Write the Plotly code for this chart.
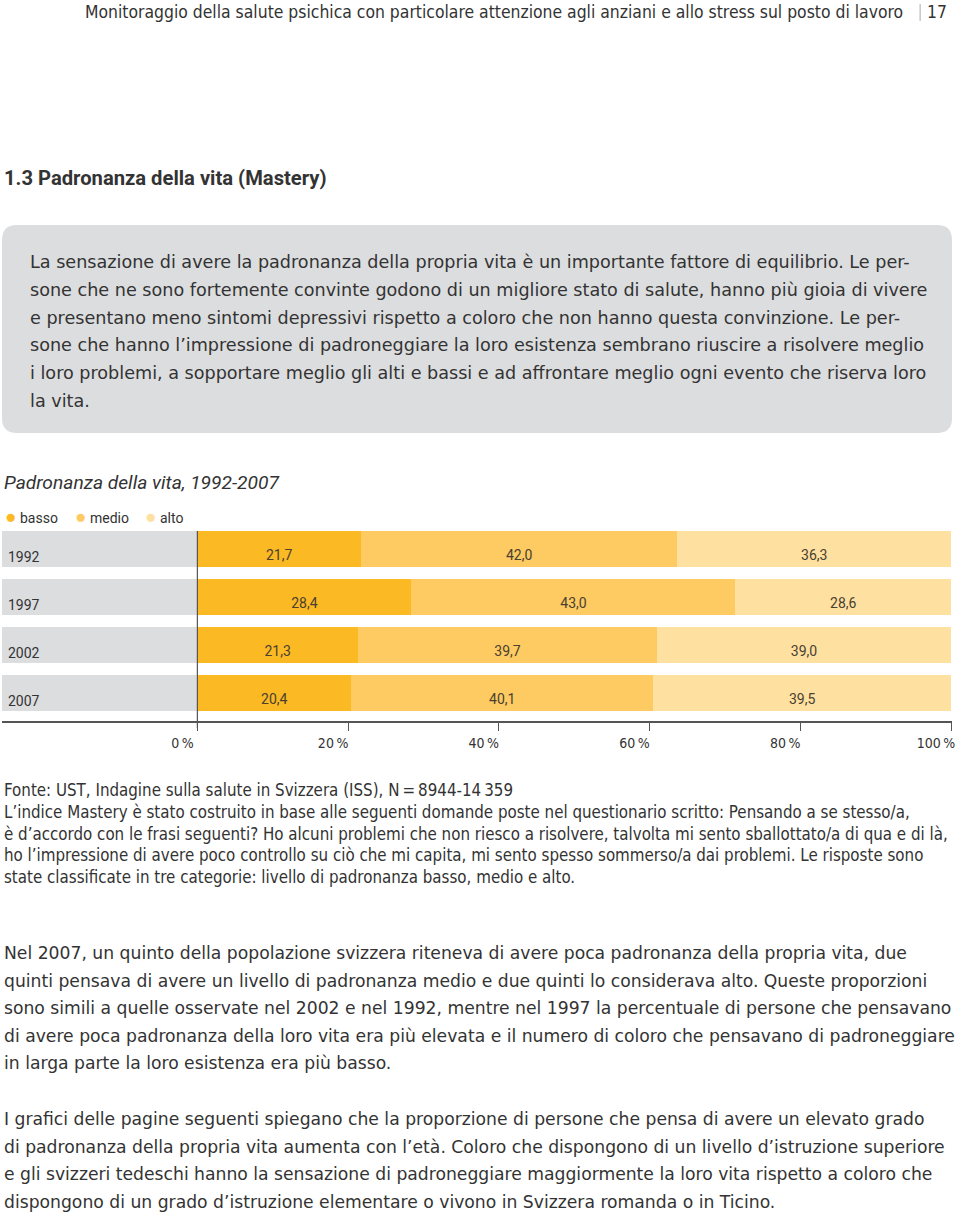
import plotly.graph_objects as go

W, H = 960, 1214

years = ["1992", "1997", "2002", "2007"]
basso = [21.7, 28.4, 21.3, 20.4]
medio = [42.0, 43.0, 39.7, 40.1]
alto = [36.3, 28.6, 39.0, 39.5]
series_names = ["basso", "medio", "alto"]
colors = ["#fbb924", "#fdcb62", "#fee0a0"]
tick_vals = [0, 20, 40, 60, 80, 100]
tick_text = ["0\u2009%", "20\u2009%", "40\u2009%", "60\u2009%", "80\u2009%", "100\u2009%"]

FONT = "Roboto, 'Noto Sans', sans-serif"
BODY = "'DejaVu Sans', sans-serif"
COND = "'DejaVu Sans Condensed', sans-serif"
TXT = "#333333"
GRAY = "#dcdddf"


def fx(p):
    return p / W


def fy(p):
    return 1 - p / H


def fmt(v):
    return f"{v:.1f}".replace(".", ",")


# axis geometry (pixels)
x0_px, x100_px, left_px, right_px = 198, 954, 2, 955
ppu = (x100_px - x0_px) / 100
xmin = -(x0_px - left_px) / ppu
xmax = 100 + (right_px - x100_px) / ppu
row_top_px, axis_px, pitch = 525, 721, 48
ymax_units = -0.5 + (axis_px - row_top_px) / pitch

fig = go.Figure()

# gray label background
fig.add_trace(go.Bar(
    y=years, x=[-xmin] * len(years), base=[xmin] * len(years), orientation="h",
    marker=dict(color=GRAY, line=dict(width=0)), width=0.75, showlegend=False, hoverinfo="skip"))

series = [basso, medio, alto]
for name, vals, col in zip(series_names, series, colors):
    fig.add_trace(go.Bar(
        y=years, x=vals, name=name, orientation="h",
        marker=dict(color=col, line=dict(width=0)), width=0.75, showlegend=False))

# value labels
cum = [0.0] * len(years)
for vals in series:
    mids = [c + v / 2 for c, v in zip(cum, vals)]
    fig.add_trace(go.Scatter(
        x=mids, y=years, mode="text", text=[fmt(v) for v in vals],
        textposition="bottom center", textfont=dict(family=FONT, size=14, color="#4a4030"),
        showlegend=False, hoverinfo="skip"))
    cum = [c + v for c, v in zip(cum, vals)]

fig.update_layout(
    width=W, height=H, margin=dict(l=0, r=0, t=0, b=0),
    paper_bgcolor="white", plot_bgcolor="white", barmode="stack", bargap=0.25,
    font=dict(family=FONT, color=TXT),
    xaxis=dict(domain=[fx(left_px), fx(right_px)], range=[xmin, xmax], showgrid=False, zeroline=False,
               showline=True, linecolor="#555555", linewidth=1.5,
               tickvals=tick_vals, ticktext=tick_text, ticks="outside", ticklen=8, tickcolor="#555555",
               tickwidth=1, ticklabelshift=-15, ticklabelstandoff=0,
               tickfont=dict(family=COND, size=14, color=TXT), fixedrange=True),
    yaxis=dict(domain=[fy(axis_px), fy(row_top_px)], range=[ymax_units, -0.5], type="category",
               showgrid=False, zeroline=False, showline=False, ticks="",
               ticklabelposition="inside", ticklabelshift=-8, ticklabelstandoff=3,
               tickfont=dict(family=FONT, size=14, color=TXT), fixedrange=True),
)

shapes = []
# rounded gray box
bx0, bx1, by0, by1, r = 2, 955, 225, 433, 15
path = (f"M {fx(bx0 + r)} {fy(by0)} L {fx(bx1 - r)} {fy(by0)} "
        f"Q {fx(bx1)} {fy(by0)} {fx(bx1)} {fy(by0 + r)} L {fx(bx1)} {fy(by1 - r)} "
        f"Q {fx(bx1)} {fy(by1)} {fx(bx1 - r)} {fy(by1)} L {fx(bx0 + r)} {fy(by1)} "
        f"Q {fx(bx0)} {fy(by1)} {fx(bx0)} {fy(by1 - r)} L {fx(bx0)} {fy(by0 + r)} "
        f"Q {fx(bx0)} {fy(by0)} {fx(bx0 + r)} {fy(by0)} Z")
shapes.append(dict(type="path", xref="paper", yref="paper", path=path, fillcolor=GRAY,
                   line=dict(width=0), layer="below"))
# 0% vertical line
shapes.append(dict(type="line", xref="x", yref="paper", x0=0, x1=0, y0=fy(728), y1=fy(531),
                   line=dict(color="#555555", width=1.2)))
# header separator
shapes.append(dict(type="line", xref="paper", yref="paper", x0=fx(923), x1=fx(923), y0=fy(4), y1=fy(21),
                   line=dict(color="#aaaaaa", width=1)))
fig.update_layout(shapes=shapes)

ann = []


def text(x, y, s, size, family=FONT, color=TXT, anchor="left"):
    ann.append(dict(x=fx(x), y=fy(y), xref="paper", yref="paper", text=s, showarrow=False,
                    xanchor=anchor, yanchor="middle", font=dict(family=family, size=size, color=color)))


text(908, 12, "Monitoraggio della salute psichica con particolare attenzione agli anziani e allo stress sul posto di lavoro",
     17.4, COND, anchor="right")
text(952, 12, "17", 17.4, COND, anchor="right")
text(2, 178, "<b>1.3 Padronanza della vita (Mastery)</b>", 20.2)

box_lines = [
    "La sensazione di avere la padronanza della propria vita è un importante fattore di equilibrio. Le per-",
    "sone che ne sono fortemente convinte godono di un migliore stato di salute, hanno più gioia di vivere",
    "e presentano meno sintomi depressivi rispetto a coloro che non hanno questa convinzione. Le per-",
    "sone che hanno l’impressione di padroneggiare la loro esistenza sembrano riuscire a risolvere meglio",
    "i loro problemi, a sopportare meglio gli alti e bassi e ad affrontare meglio ogni evento che riserva loro",
    "la vita.",
]
for i, s in enumerate(box_lines):
    text(28, 262 + i * 27.8, s, 17.6, BODY)

text(2, 483, "<i>Padronanza della vita, 1992-2007</i>", 19.2)

# legend
lx = [3, 73, 143]
for x, name, col in zip(lx, series_names, colors):
    text(x, 516, f"<span style='color:{col};font-size:19px'>●</span> {name}", 14)

foot = [
    "Fonte: UST, Indagine sulla salute in Svizzera (ISS), N\u2009=\u20098944-14\u2009359",
    "L’indice Mastery è stato costruito in base alle seguenti domande poste nel questionario scritto: Pensando a se stesso/a,",
    "è d’accordo con le frasi seguenti? Ho alcuni problemi che non riesco a risolvere, talvolta mi sento sballottato/a di qua e di là,",
    "ho l’impressione di avere poco controllo su ciò che mi capita, mi sento spesso sommerso/a dai problemi. Le risposte sono",
    "state classificate in tre categorie: livello di padronanza basso, medio e alto.",
]
for i, s in enumerate(foot):
    text(2, 790 + i * 21.75, s, 16.8, COND)

p1 = [
    "Nel 2007, un quinto della popolazione svizzera riteneva di avere poca padronanza della propria vita, due",
    "quinti pensava di avere un livello di padronanza medio e due quinti lo considerava alto. Queste proporzioni",
    "sono simili a quelle osservate nel 2002 e nel 1992, mentre nel 1997 la percentuale di persone che pensavano",
    "di avere poca padronanza della loro vita era più elevata e il numero di coloro che pensavano di padroneggiare",
    "in larga parte la loro esistenza era più basso.",
]
for i, s in enumerate(p1):
    text(2, 953 + i * 27.5, s, 17.2, BODY)

p2 = [
    "I grafici delle pagine seguenti spiegano che la proporzione di persone che pensa di avere un elevato grado",
    "di padronanza della propria vita aumenta con l’età. Coloro che dispongono di un livello d’istruzione superiore",
    "e gli svizzeri tedeschi hanno la sensazione di padroneggiare maggiormente la loro vita rispetto a coloro che",
    "dispongono di un grado d’istruzione elementare o vivono in Svizzera romanda o in Ticino.",
]
for i, s in enumerate(p2):
    text(2, 1119 + i * 27.6, s, 17.2, BODY)

fig.update_layout(annotations=ann)
fig.write_html("out.html", config={"displayModeBar": False},
               post_script="document.body.style.margin='0px';document.body.style.overflow='hidden';")
